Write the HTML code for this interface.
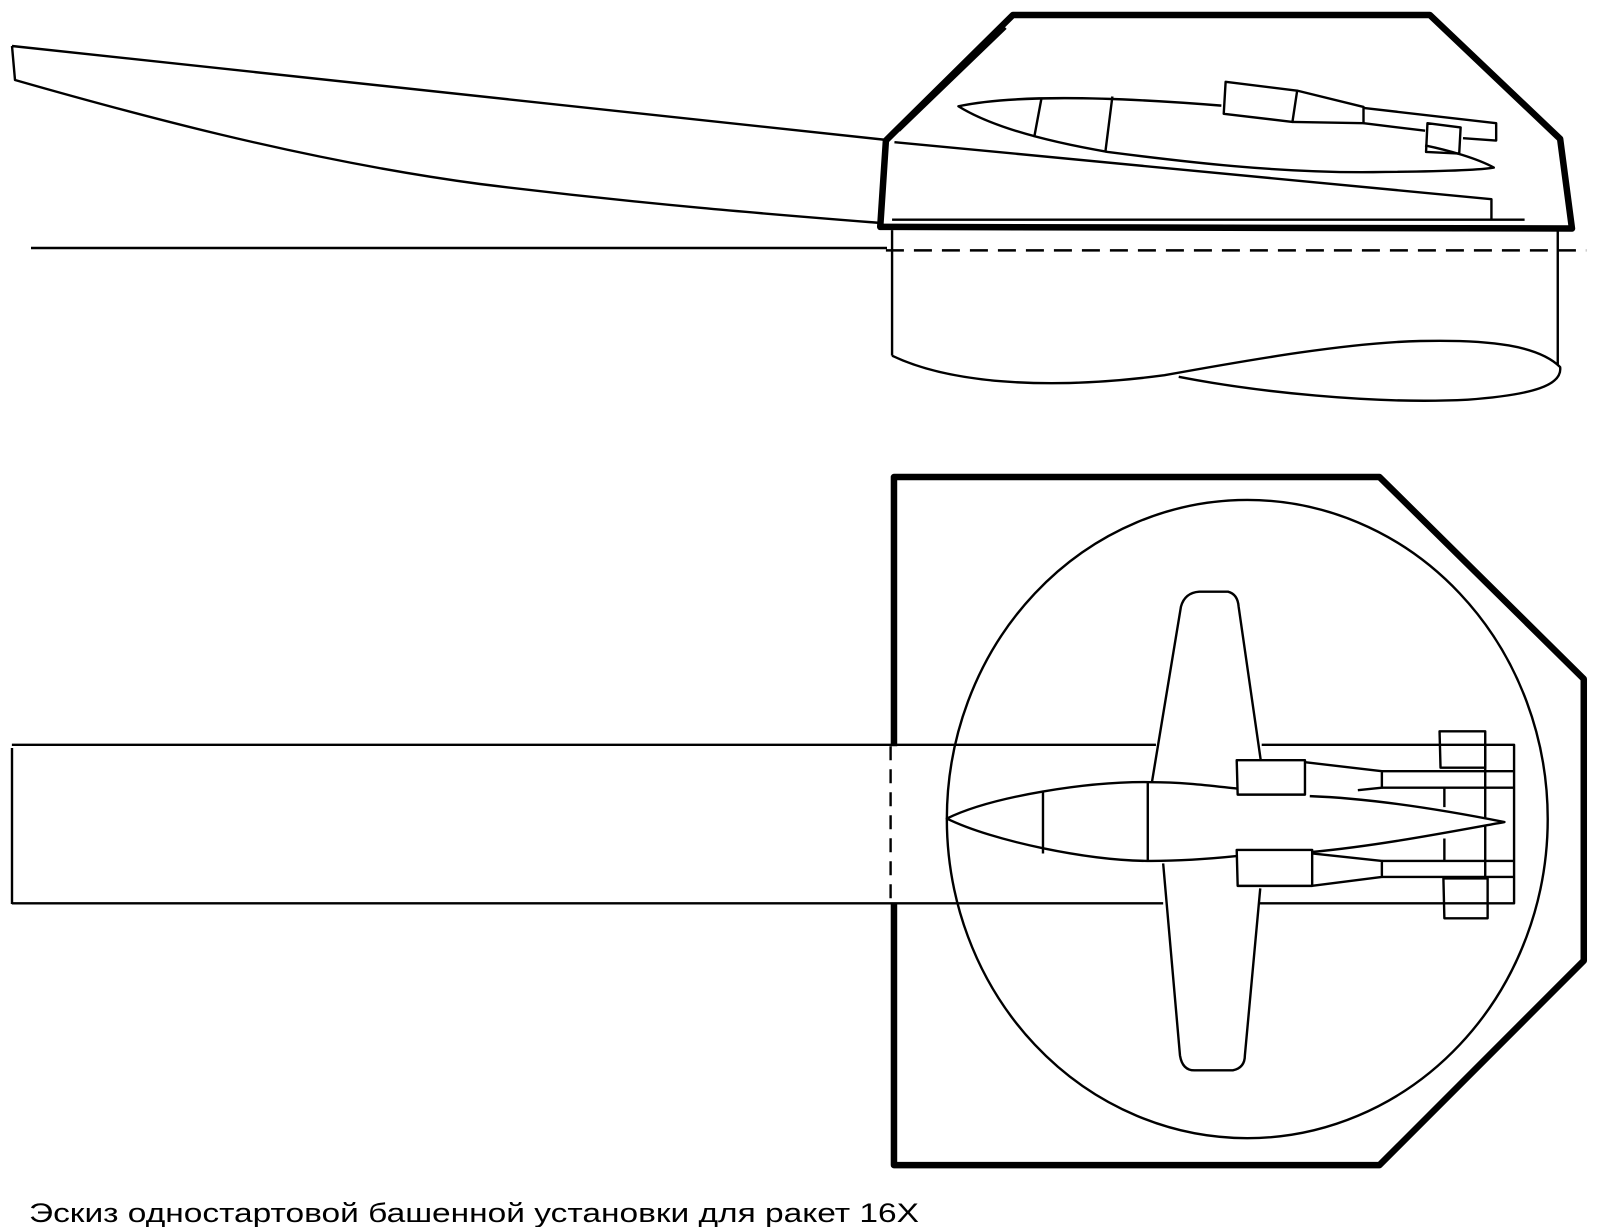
<!DOCTYPE html>
<html><head><meta charset="utf-8"><style>
html,body{margin:0;padding:0;background:#fff;}
svg{display:block;}
</style></head><body>
<svg width="1600" height="1227" viewBox="0 0 1600 1227" xmlns="http://www.w3.org/2000/svg">
<g fill="none" stroke="#000" stroke-width="2.4" stroke-linejoin="round">
  <path d="M12,46 L887,140 M12,46 L15,80 C120,110 300,160 480,184 C650,205 780,215 881,223"/>
  <path d="M31,248 H887"/>
  <path d="M12,748 V904"/>
</g>

<g transform="matrix(0.4738 0 0 0.326 851.8 1.96)" fill="none" stroke="#000" stroke-linejoin="round">
  <path vector-effect="non-scaling-stroke" stroke-width="6.5" d="M60,690 L72,425 L340,40 L1220,40 L1495,420 L1520,695 Z"/>
  <g stroke-width="2.4">
    <path vector-effect="non-scaling-stroke" d="M100,395 L325,80"/>
    <path vector-effect="non-scaling-stroke" d="M85,668 H1420"/>
    <path vector-effect="non-scaling-stroke" d="M90,430 L1350,605 V665"/>
    <path vector-effect="non-scaling-stroke" d="M780,318 C500,285 320,290 225,320 C280,370 380,420 540,460 C700,490 900,525 1100,522 C1250,520 1330,515 1355,508 C1320,480 1260,455 1210,440"/>
    <path vector-effect="non-scaling-stroke" d="M400,298 L385,415 M550,290 L535,462"/>
    <path vector-effect="non-scaling-stroke" d="M789,245 L940,272 L930,368 L785,343 Z"/>
    <path vector-effect="non-scaling-stroke" d="M940,272 L1080,322 L1080,372 L930,368"/>
    <path vector-effect="non-scaling-stroke" d="M1080,325 L1360,372 L1360,425 L1290,418 M1080,372 L1210,395"/>
    <path vector-effect="non-scaling-stroke" d="M1215,372 L1285,385 L1282,465 L1212,460 Z"/>
    <path vector-effect="non-scaling-stroke" d="M85,700 V1085 M1490,700 V1115"/>
    <path vector-effect="non-scaling-stroke" d="M85,1085 C200,1165 400,1195 660,1145 C850,1095 1050,1045 1200,1040 C1350,1035 1450,1055 1495,1120 C1500,1175 1440,1205 1300,1220 C1100,1235 850,1195 690,1150"/>
    <path vector-effect="non-scaling-stroke" stroke-dasharray="18 10" d="M72,762 H1550"/>
  </g>
</g>

<g transform="matrix(0.4807 0 0 0.4986 848.3 447.1)" fill="none" stroke="#000" stroke-linejoin="round">
  <path vector-effect="non-scaling-stroke" stroke-width="6.5" d="M95,600 V60 H1105 L1530,465 V1030 L1105,1440 H95 V915"/>
  <g stroke-width="2.4">
    <ellipse vector-effect="non-scaling-stroke" cx="830" cy="746" rx="625" ry="640"/>
    <path vector-effect="non-scaling-stroke" d="M-1740,597 H640 M860,597 H1385 V915 H855 M655,915 H-1740"/>
    <path vector-effect="non-scaling-stroke" stroke-dasharray="14 9" d="M88,600 V915"/>
    <path vector-effect="non-scaling-stroke" d="M632,670 L692,320 Q700,292 730,290 L790,290 Q810,295 812,320 L858,628"/>
    <path vector-effect="non-scaling-stroke" d="M655,835 L690,1220 Q695,1250 720,1250 L800,1250 Q825,1245 825,1220 L857,885"/>
    <path vector-effect="non-scaling-stroke" d="M810,685 C760,680 700,672 630,672 C500,670 300,700 205,745 C300,790 500,830 630,830 C700,830 760,825 810,820"/>
    <path vector-effect="non-scaling-stroke" d="M405,690 V815 M623,672 V830"/>
    <path vector-effect="non-scaling-stroke" d="M960,700 C1100,705 1250,730 1365,752 C1250,772 1100,800 965,812"/>
    <path vector-effect="non-scaling-stroke" d="M808,628 H950 V697 H810 Z"/>
    <path vector-effect="non-scaling-stroke" d="M950,632 L1110,650 V683 L1060,688"/>
    <path vector-effect="non-scaling-stroke" d="M1110,650 H1385 M1110,683 H1385"/>
    <path vector-effect="non-scaling-stroke" d="M808,808 H965 V880 H810 Z"/>
    <path vector-effect="non-scaling-stroke" d="M965,815 L1110,830 V862 L965,880"/>
    <path vector-effect="non-scaling-stroke" d="M1110,830 H1385 M1110,862 H1385"/>
    <path vector-effect="non-scaling-stroke" d="M1230,570 H1325 V643 H1232 Z"/>
    <path vector-effect="non-scaling-stroke" d="M1238,865 H1330 V945 H1240 Z"/>
    <path vector-effect="non-scaling-stroke" d="M1240,683 V722 M1325,597 V745 M1240,785 V830 M1325,760 V865"/>
  </g>
</g>

<text x="29" y="1222" font-family="Liberation Sans, sans-serif" font-size="27" textLength="890" lengthAdjust="spacingAndGlyphs" fill="#000">Эскиз одностартовой башенной установки для ракет 16Х</text>
</svg>
</body></html>
